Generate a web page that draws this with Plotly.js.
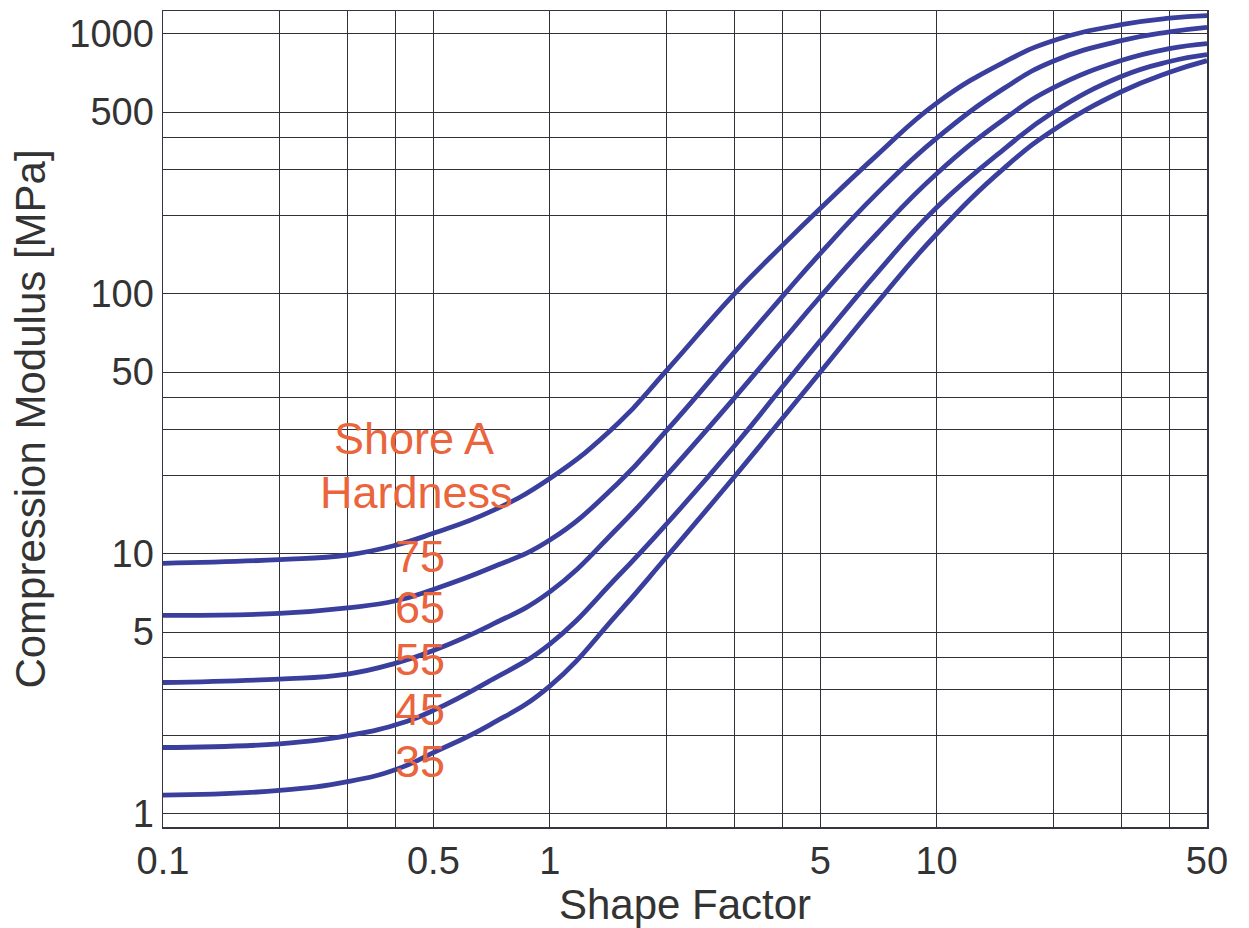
<!DOCTYPE html>
<html>
<head>
<meta charset="utf-8">
<script src="https://cdn.plot.ly/plotly-3.0.1.min.js"></script>
<style>html,body{margin:0;padding:0;background:#fff;}#chart{width:1249px;height:928px;}</style>
</head>
<body>
<div id="chart"></div>
<script>
// Shape factor values (x)
const shapeFactor = [0.1, 0.2, 0.3, 0.4, 0.5, 0.7, 1, 1.5, 2, 3, 4, 5, 7, 10, 15, 20, 30, 40, 50];
// Compression modulus [MPa] per Shore A hardness
const hardnessLabels = ["75", "65", "55", "45", "35"];
const mod75 = [9.2, 9.5, 9.9, 10.8, 12.0, 14.5, 19.5, 31.7, 50.6, 100, 154, 213, 341, 542, 781, 942, 1085, 1149, 1175];
const mod65 = [5.8, 5.9, 6.2, 6.6, 7.3, 8.8, 11.3, 18.7, 29.7, 59.7, 98, 143, 243, 397, 620, 785, 942, 1018, 1060];
const mod55 = [3.2, 3.3, 3.45, 3.8, 4.25, 5.3, 7.14, 12.6, 20, 39.8, 66, 97.5, 170, 290, 472, 620, 790, 878, 918];
const mod45 = [1.8, 1.86, 2.0, 2.2, 2.5, 3.25, 4.5, 8.2, 13.0, 26, 44, 66, 120, 215, 362, 500, 686, 783, 832];
const mod35 = [1.18, 1.23, 1.33, 1.48, 1.72, 2.2, 3.1, 5.9, 9.7, 19.8, 33.3, 50, 92, 170, 306, 426, 599, 712, 789];
const seriesValues = [mod75, mod65, mod55, mod45, mod35];

// Tick / grid values and labels
const xTickVals = [0.1, 0.2, 0.3, 0.4, 0.5, 1, 2, 3, 4, 5, 10, 20, 30, 40, 50];
const xTickText = ["0.1", "", "", "", "0.5", "1", "", "", "", "5", "10", "", "", "", "50"];
const yTickVals = [1, 2, 3, 4, 5, 10, 20, 30, 40, 50, 100, 200, 300, 400, 500, 1000];
const yTickText = ["1", "", "", "", "5", "10", "", "", "", "50", "100", "", "", "", "500", "1000"];

const FONT = "Liberation Sans, Arial, Helvetica, sans-serif";
const lineColor = "#3A3F9E";
const labelColor = "#EA643C";

const traces = seriesValues.map((vals, i) => ({
  x: shapeFactor,
  y: vals,
  type: "scatter",
  mode: "lines",
  name: hardnessLabels[i],
  line: {color: lineColor, width: 4.8, shape: "spline", smoothing: 1.3},
  hoverinfo: "x+y+name"
}));

// label positions (paper coords)
const labelY = [0.332, 0.269, 0.205, 0.144, 0.080];
const annotations = [
  {text: "Shore A", x: 0.2404, y: 0.476},
  {text: "Hardness", x: 0.2424, y: 0.410}
].concat(hardnessLabels.map((t, i) => ({text: t, x: 0.2462, y: labelY[i]})))
 .map(a => Object.assign({
   xref: "paper", yref: "paper", xanchor: "center", yanchor: "middle",
   showarrow: false, font: {family: FONT, size: 45, color: labelColor}
 }, a));

const axisCommon = {
  type: "log",
  showgrid: true,
  gridcolor: "#2f3038",
  gridwidth: 1,
  showline: true,
  mirror: true,
  linecolor: "#333640",
  linewidth: 1.5,
  ticks: "",
  zeroline: false,
  tickmode: "array",
  tickfont: {family: FONT, size: 38, color: "#333333"}
};

const layout = {
  width: 1249,
  height: 928,
  margin: {l: 163, r: 42, t: 11, b: 101},
  paper_bgcolor: "#ffffff",
  plot_bgcolor: "#ffffff",
  showlegend: false,
  xaxis: Object.assign({}, axisCommon, {
    range: [-1, Math.log10(50)],
    tickvals: xTickVals,
    ticktext: xTickText,
    title: {text: "Shape Factor", font: {family: FONT, size: 42, color: "#333333"}, standoff: 8}
  }),
  yaxis: Object.assign({}, axisCommon, {
    range: [Math.log10(0.89), Math.log10(1225)],
    tickvals: yTickVals,
    ticktext: yTickText,
    title: {text: "Compression Modulus [MPa]", font: {family: FONT, size: 42, color: "#333333"}, standoff: 10}
  }),
  annotations: annotations
};

Plotly.newPlot("chart", traces, layout, {displayModeBar: false, staticPlot: true});
</script>
</body>
</html>
